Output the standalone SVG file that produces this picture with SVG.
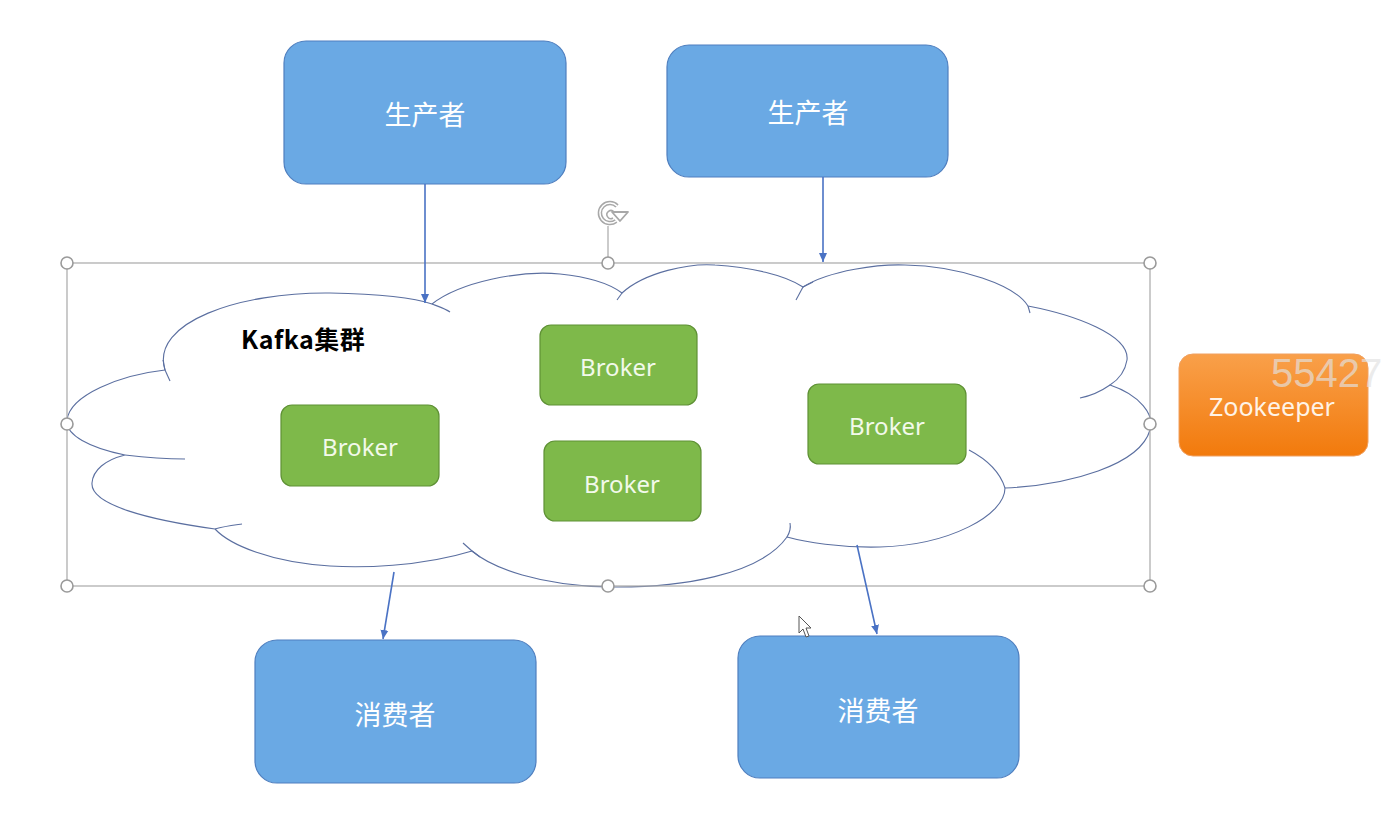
<svg xmlns="http://www.w3.org/2000/svg" width="1400" height="820" viewBox="0 0 1400 820">
<defs>
<style>
.blue{fill:#6aa9e4;stroke:#4f7fbf;stroke-width:1.2}
.green{fill:#7eb94a;stroke:#5f9135;stroke-width:1.2}
.cn{font-family:"Noto Sans CJK SC","Noto Sans",sans-serif;font-size:27px;fill:#ffffff;text-anchor:middle;dominant-baseline:central}
.bk{font-family:"Noto Sans","Open Sans",sans-serif;font-size:24px;fill:#f2f9ea;text-anchor:middle;dominant-baseline:central}
.cloud{fill:none;stroke:#5b6fa0;stroke-width:1.1}
.conn{stroke:#4a72c4;stroke-width:1.6;fill:none;marker-end:url(#ah)}
.handle{fill:#ffffff;stroke:#9a9a9a;stroke-width:1.6}
</style>
<marker id="ah" markerWidth="10" markerHeight="10" refX="9" refY="5" orient="auto" markerUnits="userSpaceOnUse">
<path d="M0,1 L9,5 L0,9 Z" fill="#4a72c4"/>
</marker>
<linearGradient id="og" x1="0" y1="0" x2="0" y2="1">
<stop offset="0" stop-color="#f9a04a"/>
<stop offset="1" stop-color="#f27a0c"/>
</linearGradient>
</defs>
<rect width="1400" height="820" fill="#ffffff"/>

<g id="cluster">
<path d="M165,370 C150,322 240,292 330,293 C380,294 415,298 432,304 C460,282 520,270 560,274 C590,277 610,284 622,293 C645,272 690,263 715,265 C750,267 785,275 803,287 C830,270 880,264 905,265 C960,266 1015,285 1028,306 C1075,315 1130,335 1127,360 C1125,372 1118,380 1110,385 C1140,395 1155,415 1150,430 C1140,465 1070,485 1005,488 C1005,515 950,545 880,547 C840,548 805,542 787,537 C760,575 680,588 610,587 C540,586 492,568 472,551 C420,567 360,568 330,566 C270,562 230,545 215,529 C150,520 90,505 92,483 C93,470 105,460 125,455 C90,448 65,435 67,420 C70,395 120,375 165,370 Z" fill="#ffffff" stroke="#5b6fa0" stroke-width="1.1"/>
<path class="cloud" d="M165,370 L170,381"/>
<path class="cloud" d="M432,304 C440,307 446,309 450,312"/>
<path class="cloud" d="M622,293 L617,300"/>
<path class="cloud" d="M803,287 L813,282"/>
<path class="cloud" d="M803,287 L796,300"/>
<path class="cloud" d="M1028,306 L1030,313"/>
<path class="cloud" d="M1110,385 C1100,392 1090,396 1080,398"/>
<path class="cloud" d="M1005,488 C1000,472 988,460 969,450"/>
<path class="cloud" d="M787,537 C790,532 791,528 790,523"/>
<path class="cloud" d="M472,551 L463,543"/>
<path class="cloud" d="M472,551 L480,557"/>
<path class="cloud" d="M215,529 C225,526 235,525 242,524"/>
<path class="cloud" d="M125,455 C150,458 168,459 185,459"/>
<path class="cloud" d="M165,370 L163,360"/>
<text x="241" y="349" font-family="'Noto Sans CJK SC','Noto Sans',sans-serif" font-size="25" font-weight="bold" fill="#000000" letter-spacing="0.5">Kafka集群</text>
</g>

<g id="selection">
<rect x="67" y="263" width="1083" height="323" fill="none" stroke="#a8a8a8" stroke-width="1.2"/>
<line x1="608" y1="257" x2="608" y2="226" stroke="#a8a8a8" stroke-width="1.2"/>
<path d="M617,206 A10,10 0 1 0 616,221" fill="none" stroke="#a8a8a8" stroke-width="4.5"/>
<path d="M617,206 A10,10 0 1 0 616,221" fill="none" stroke="#ffffff" stroke-width="1.5"/>
<path d="M614,212 A4,4 0 1 0 613,218" fill="none" stroke="#a8a8a8" stroke-width="1.5"/>
<path d="M612,212 L628,212 L620,221 Z" fill="#ffffff" stroke="#a8a8a8" stroke-width="1.8" stroke-linejoin="round"/>
<circle class="handle" cx="67" cy="263" r="6"/>
<circle class="handle" cx="608" cy="263" r="6"/>
<circle class="handle" cx="1150" cy="263" r="6"/>
<circle class="handle" cx="67" cy="424" r="6"/>
<circle class="handle" cx="1150" cy="424" r="6"/>
<circle class="handle" cx="67" cy="586" r="6"/>
<circle class="handle" cx="608" cy="586" r="6"/>
<circle class="handle" cx="1150" cy="586" r="6"/>
</g>

<g id="producer1"><rect class="blue" x="284" y="41" width="282" height="143" rx="22"/><text class="cn" x="425" y="113">生产者</text></g>
<g id="producer2"><rect class="blue" x="667" y="45" width="281" height="132" rx="22"/><text class="cn" x="808" y="111">生产者</text></g>
<g id="consumer1"><rect class="blue" x="255" y="640" width="281" height="143" rx="22"/><text class="cn" x="395" y="713">消费者</text></g>
<g id="consumer2"><rect class="blue" x="738" y="636" width="281" height="142" rx="22"/><text class="cn" x="878" y="709">消费者</text></g>

<g id="broker1"><rect class="green" x="281" y="405" width="158" height="81" rx="11"/><text class="bk" x="360" y="446">Broker</text></g>
<g id="broker2"><rect class="green" x="540" y="325" width="157" height="80" rx="11"/><text class="bk" x="618" y="366">Broker</text></g>
<g id="broker3"><rect class="green" x="544" y="441" width="157" height="80" rx="11"/><text class="bk" x="622" y="483">Broker</text></g>
<g id="broker4"><rect class="green" x="808" y="384" width="158" height="80" rx="11"/><text class="bk" x="887" y="425">Broker</text></g>

<g id="zookeeper"><rect x="1179" y="354" width="189" height="102" rx="14" fill="url(#og)" stroke="#f0a060" stroke-width="1"/><text x="1272" y="406" font-family="'Noto Sans','Open Sans',sans-serif" font-size="25" fill="#fff3e6" text-anchor="middle" dominant-baseline="central">Zookeeper</text></g>

<g id="connectors">
<line class="conn" x1="425" y1="184" x2="425" y2="303"/>
<line class="conn" x1="823" y1="177" x2="823" y2="262"/>
<line class="conn" x1="394" y1="572" x2="383" y2="639"/>
<line class="conn" x1="857" y1="545" x2="877" y2="634"/>
</g>

<text x="1271" y="387" font-family="'Liberation Sans',Arial,sans-serif" font-size="40" fill="#e2e2e2" fill-opacity="0.68">55427</text>

<g id="cursor">
<path d="M799,616 L799,633 L803,629 L806,637 L809,636 L806,628 L811,628 Z" fill="#ffffff" stroke="#555555" stroke-width="1"/>
</g>
</svg>
